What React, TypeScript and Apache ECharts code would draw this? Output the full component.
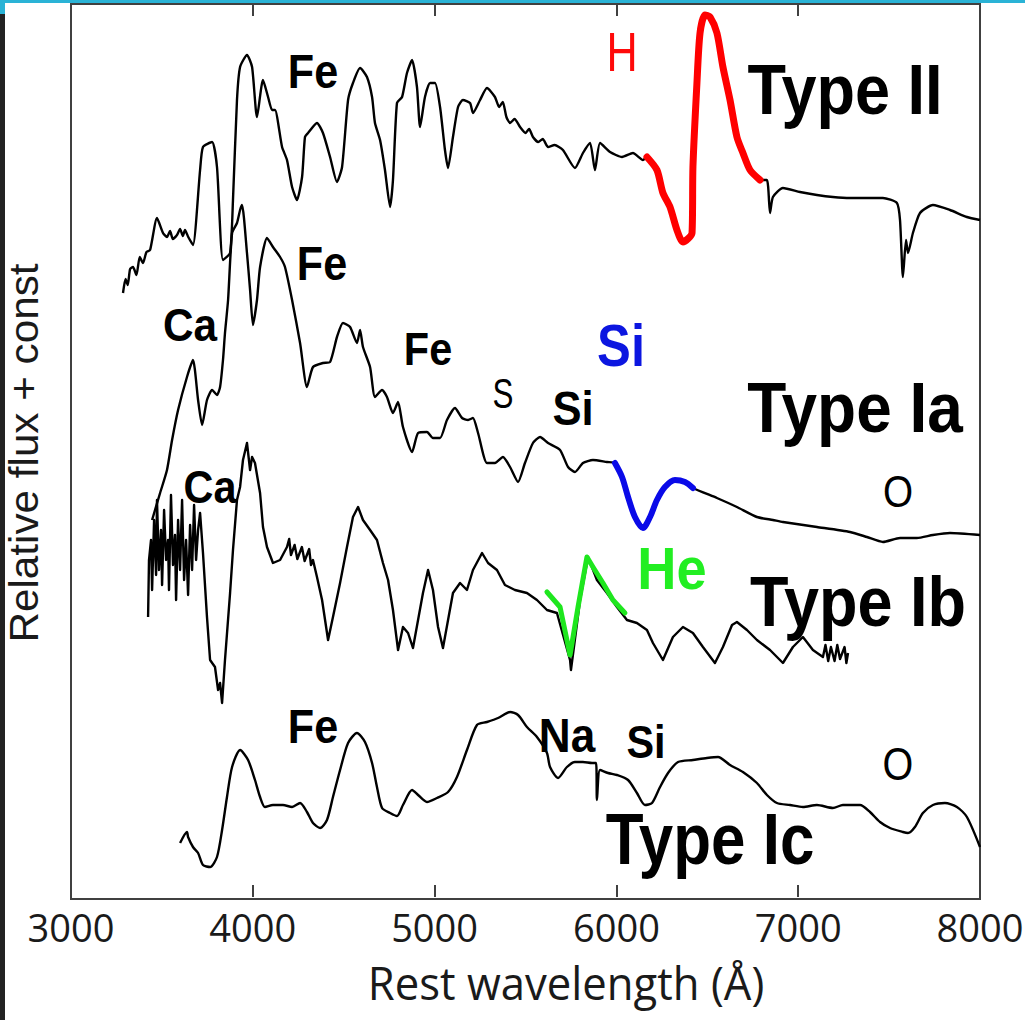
import React, { useEffect, useRef } from "react";
import * as echarts from "echarts";

// ---- axis ----
const X_TICKS = [3000, 4000, 5000, 6000, 7000, 8000];
const FLUX_MIN = -2;
const FLUX_MAX = 893;

// ---- Type II spectrum (wavelength Å, relative flux + const) ----
const typeIIWave = [
  3286, 3300, 3312, 3325, 3341, 3360, 3378, 3396, 3415, 3435,
  3473, 3506, 3528, 3545, 3560, 3583, 3600, 3615, 3627, 3645,
  3671, 3710, 3726, 3776, 3803, 3836, 3875, 3891, 3913, 3930,
  3968, 3996, 4023, 4056, 4084, 4106, 4122, 4161, 4188, 4216,
  4243, 4271, 4287, 4304, 4353, 4386, 4425, 4463, 4491, 4524,
  4551, 4590, 4628, 4656, 4672, 4700, 4727, 4755, 4771, 4793,
  4821, 4848, 4876, 4903, 4920, 4947, 4975, 5002, 5030, 5057,
  5074, 5101, 5129, 5156, 5195, 5211, 5250, 5288, 5332, 5355,
  5375, 5395, 5415, 5440, 5470, 5500, 5520, 5541, 5570, 5595,
  5624, 5660, 5706, 5772, 5816, 5855, 5882, 5910, 5965, 6031,
  6091, 6146, 6168, 6223, 6256, 6295, 6333, 6366, 6416, 6421,
  6443, 6460, 6487, 6515, 6553, 6586, 6625, 6663, 6696, 6735,
  6790, 6828, 6845, 6861, 6916, 7010, 7103, 7191, 7285, 7378,
  7466, 7543, 7560, 7576, 7593, 7604, 7631, 7670, 7741, 7835,
  7928, 8000,
];
const typeIIFlux = [
  604, 618, 612, 628, 630, 622, 640, 634, 645, 647,
  679, 664, 660, 666, 658, 662, 668, 661, 667, 660,
  652, 727, 750, 755, 730, 637, 644, 697, 797, 830,
  842, 830, 780, 817, 800, 787, 787, 750, 737, 710,
  697, 720, 760, 764, 774, 764, 740, 715, 730, 797,
  814, 829, 820, 800, 774, 757, 727, 690, 717, 794,
  800, 824, 837, 810, 770, 800, 814, 814, 790, 747,
  729, 760, 790, 797, 794, 784, 797, 809, 800, 790,
  795, 780, 774, 778, 770, 764, 768, 760, 755, 758,
  750, 752, 747, 729, 744, 754, 727, 754, 745, 740,
  744, 737, 740, 727, 704, 690, 667, 655, 664, 730,
  814, 864, 882, 880, 864, 830, 797, 760, 744, 727,
  717, 717, 684, 700, 709, 705, 702, 700, 699, 699,
  699, 694, 677, 620, 657, 644, 664, 684, 692, 687,
  680, 677,
];

// ---- Type Ia spectrum ----
const typeIaWave = [
  3446, 3490, 3528, 3556, 3589, 3638, 3671, 3699, 3721, 3748,
  3776, 3803, 3820, 3836, 3847, 3864, 3886, 3913, 3930, 3941,
  3968, 3985, 4001, 4023, 4040, 4078, 4111, 4150, 4177, 4216,
  4260, 4298, 4331, 4386, 4425, 4463, 4496, 4535, 4573, 4590,
  4606, 4645, 4672, 4711, 4738, 4771, 4799, 4826, 4876, 4909,
  4958, 4991, 5030, 5068, 5112, 5151, 5184, 5211, 5239, 5288,
  5332, 5376, 5415, 5459, 5497, 5541, 5580, 5624, 5690, 5734,
  5772, 5816, 5871, 5948, 5992, 6031, 6064, 6102, 6146, 6185,
  6223, 6267, 6322, 6377, 6421, 6553, 6663, 6773, 6861, 6916,
  7103, 7285, 7378, 7466, 7560, 7653, 7741, 7835, 8000,
];
const typeIaFlux = [
  377, 404, 427, 457, 487, 520, 537, 497, 472, 497,
  507, 502, 510, 537, 564, 597, 664, 674, 687, 692,
  644, 607, 572, 597, 630, 659, 650, 640, 630, 597,
  554, 510, 530, 534, 535, 560, 574, 570, 554, 567,
  550, 530, 500, 507, 500, 484, 495, 470, 445, 464,
  465, 459, 459, 477, 489, 479, 477, 479, 464, 434,
  434, 440, 430, 415, 434, 454, 460, 454, 447, 430,
  425, 434, 437, 435, 434, 420, 400, 380, 369, 380,
  397, 410, 417, 415, 409, 399, 390, 380, 377, 375,
  370, 365, 360, 355, 359, 359, 362, 364, 362,
];

// ---- Type Ib spectrum ----
const typeIbWave = [
  3424, 3429, 3440, 3446, 3457, 3468, 3473, 3484, 3495, 3501,
  3512, 3523, 3534, 3539, 3550, 3561, 3572, 3578, 3589, 3600,
  3611, 3622, 3633, 3644, 3655, 3666, 3677, 3688, 3699, 3710,
  3726, 3748, 3765, 3792, 3809, 3820, 3831, 3847, 3875, 3891,
  3913, 3930, 3946, 3968, 3985, 3996, 4012, 4040, 4056, 4078,
  4111, 4150, 4188, 4200, 4210, 4230, 4245, 4270, 4285, 4310,
  4320, 4331, 4353, 4381, 4414, 4441, 4480, 4518, 4551, 4579,
  4606, 4645, 4683, 4716, 4744, 4771, 4799, 4826, 4854, 4881,
  4909, 4936, 4964, 4991, 5019, 5046, 5074, 5101, 5140, 5178,
  5211, 5261, 5294, 5343, 5387, 5442, 5508, 5563, 5618, 5673,
  5745, 5750, 5800, 5844, 5893, 5948, 6003, 6058, 6113, 6168,
  6201, 6256, 6311, 6366, 6421, 6476, 6542, 6586, 6636, 6663,
  6718, 6773, 6845, 6916, 6971, 7026, 7081, 7136, 7150, 7165,
  7180, 7200, 7215, 7230, 7255, 7265, 7274,
];
const typeIbFlux = [
  280, 337, 357, 307, 377, 322, 397, 327, 367, 312,
  387, 337, 357, 307, 402, 332, 362, 297, 377, 327,
  397, 317, 357, 302, 372, 327, 392, 337, 367, 384,
  344, 280, 237, 230, 207, 214, 194, 237, 304, 347,
  397, 410, 437, 454, 427, 440, 434, 404, 370, 350,
  334, 337, 350, 358, 342, 352, 338, 350, 336, 348,
  332, 337, 320, 297, 257, 280, 314, 350, 380, 390,
  377, 367, 357, 334, 317, 287, 247, 270, 264, 249,
  277, 304, 327, 307, 270, 249, 277, 304, 314, 307,
  327, 344, 334, 327, 312, 307, 304, 297, 287, 284,
  237, 227, 297, 340, 317, 304, 290, 277, 274, 267,
  254, 237, 260, 270, 264, 250, 234, 250, 272, 275,
  267, 257, 247, 234, 250, 260, 247, 240, 252, 236,
  250, 236, 252, 238, 250, 234, 244,
];

// ---- Type Ic spectrum ----
const typeIcWave = [
  3600, 3638, 3644, 3671, 3699, 3726, 3765, 3803, 3831, 3858,
  3886, 3930, 3974, 4012, 4040, 4067, 4111, 4166, 4216, 4260,
  4298, 4331, 4370, 4408, 4441, 4480, 4524, 4573, 4617, 4656,
  4683, 4711, 4755, 4793, 4826, 4876, 4909, 4958, 5013, 5074,
  5123, 5178, 5233, 5288, 5349, 5415, 5459, 5508, 5563, 5618,
  5635, 5679, 5728, 5772, 5816, 5866, 5888, 5893, 5910, 5954,
  6003, 6064, 6113, 6157, 6196, 6240, 6284, 6339, 6421, 6498,
  6559, 6625, 6696, 6773, 6828, 6883, 6955, 7026, 7103, 7191,
  7246, 7340, 7395, 7450, 7505, 7576, 7604, 7642, 7686, 7741,
  7807, 7873, 7928, 8000,
];
const typeIcFlux = [
  54, 65, 60, 50, 44, 32, 30, 40, 67, 100,
  130, 147, 137, 117, 100, 90, 92, 92, 90, 94,
  85, 74, 69, 77, 100, 127, 154, 164, 155, 134,
  110, 89, 84, 81, 92, 107, 102, 95, 99, 105,
  120, 147, 172, 175, 179, 185, 182, 170, 160, 144,
  130, 119, 130, 135, 135, 134, 134, 97, 127, 124,
  122, 117, 104, 92, 94, 110, 124, 135, 137, 139,
  140, 132, 125, 114, 102, 94, 92, 90, 92, 89,
  92, 92, 85, 75, 69, 65, 64, 70, 84, 92,
  94, 90, 80, 50,
];

// ---- highlighted features ----
const H_ALPHA_RANGE = [6168, 6790]; // on Type II
const SI_II_RANGE = [5992, 6421]; // on Type Ia
const heWave = [5618, 5690, 5745, 5789, 5838, 5871, 5926, 5981, 6047];
const heFlux = [305, 290, 242, 290, 340, 330, 314, 297, 284];

// ---- annotation texts ----
const LABEL_TEXTS = {
  feII: "Fe", hII: "H", typeII: "Type II",
  feIa1: "Fe", caIa: "Ca", feIa2: "Fe", sIa: "S", siIa: "Si", siBlue: "Si", typeIa: "Type Ia", oIa: "O",
  caIb: "Ca", heIb: "He", typeIb: "Type Ib",
  feIc: "Fe", naIc: "Na", siIc: "Si", oIc: "O", typeIc: "Type Ic",
};
const X_TITLE = "Rest wavelength (Å)";
const Y_TITLE = "Relative flux + const";

const pairs = (w: number[], f: number[]) => w.map((x, i) => [x, f[i]]);
const within = (w: number[], f: number[], r: number[]) =>
  pairs(w, f).filter((p) => p[0] >= r[0] && p[0] <= r[1]);

type Ann = { key: keyof typeof LABEL_TEXTS; x: number; y: number; size: number; bold: boolean; color: string; sx: number };
const ANNS: Ann[] = [
  { key: "feII", x: 313, y: 71, size: 49, bold: true, color: "#000", sx: 0.88 },
  { key: "hII", x: 622, y: 52, size: 56, bold: false, color: "#ff0a0a", sx: 0.77 },
  { key: "typeII", x: 845, y: 90, size: 70, bold: true, color: "#000", sx: 0.9 },
  { key: "feIa1", x: 322, y: 263, size: 49, bold: true, color: "#000", sx: 0.88 },
  { key: "caIa", x: 190, y: 325, size: 47, bold: true, color: "#000", sx: 0.9 },
  { key: "feIa2", x: 428, y: 349, size: 46, bold: true, color: "#000", sx: 0.9 },
  { key: "sIa", x: 503, y: 393, size: 43, bold: false, color: "#000", sx: 0.73 },
  { key: "siIa", x: 573, y: 408, size: 49, bold: true, color: "#000", sx: 0.89 },
  { key: "siBlue", x: 621, y: 346, size: 59, bold: true, color: "#0c16e0", sx: 0.86 },
  { key: "typeIa", x: 855, y: 407, size: 71, bold: true, color: "#000", sx: 0.9 },
  { key: "oIa", x: 898, y: 491, size: 45, bold: false, color: "#000", sx: 0.86 },
  { key: "caIb", x: 210, y: 487, size: 46, bold: true, color: "#000", sx: 0.9 },
  { key: "heIb", x: 672, y: 569, size: 59, bold: true, color: "#22ee22", sx: 0.92 },
  { key: "typeIb", x: 858, y: 602, size: 70, bold: true, color: "#000", sx: 0.9 },
  { key: "feIc", x: 313, y: 726, size: 49, bold: true, color: "#000", sx: 0.88 },
  { key: "naIc", x: 567, y: 735, size: 49, bold: true, color: "#000", sx: 0.9 },
  { key: "siIc", x: 646, y: 742, size: 46, bold: true, color: "#000", sx: 0.9 },
  { key: "oIc", x: 898, y: 764, size: 46, bold: false, color: "#000", sx: 0.86 },
  { key: "typeIc", x: 710, y: 839, size: 72, bold: true, color: "#000", sx: 0.86 },
];

const FRAME = "#404040";

function textEl(text: string, x: number, y: number, size: number, font: string, fill: string, sx: number, rotation = 0) {
  return {
    type: "text",
    x,
    y,
    scaleX: sx,
    rotation,
    silent: true,
    z: 100,
    style: {
      text,
      font,
      fill,
      lineHeight: size,
      align: "center",
      verticalAlign: "middle",
      textAlign: "center",
      textVerticalAlign: "middle",
    },
  };
}

export default function App() {
  const ref = useRef<HTMLDivElement>(null);

  useEffect(() => {
    document.body.style.margin = "0";
    const chart = echarts.init(ref.current!, undefined, { renderer: "svg" });

    const spectrum = (name: string, data: number[][], smooth: number) => ({
      name,
      type: "line",
      data,
      smooth,
      showSymbol: false,
      symbol: "none",
      silent: true,
      lineStyle: { color: "#000", width: 2.4, join: "round" },
      z: 2,
    });
    const feature = (name: string, data: number[][], color: string, width: number, smooth: number) => ({
      name,
      type: "line",
      data,
      smooth,
      showSymbol: false,
      symbol: "none",
      silent: true,
      lineStyle: { color, width, cap: "round", join: "round" },
      z: 3,
    });

    const xAxisBase = {
      type: "value",
      min: X_TICKS[0],
      max: X_TICKS[X_TICKS.length - 1],
      interval: X_TICKS[1] - X_TICKS[0],
      axisLine: { show: false },
      splitLine: { show: false },
      axisTick: { show: true, inside: true, length: 12, lineStyle: { color: FRAME, width: 2 } },
    };

    chart.setOption({
      animation: false,
      backgroundColor: "#fff",
      grid: {
        left: 71,
        top: 4,
        right: 45,
        bottom: 121,
        containLabel: false,
        outerBoundsMode: "none",
        show: true,
        borderColor: FRAME,
        borderWidth: 2,
        backgroundColor: "transparent",
      },
      xAxis: [
        {
          ...xAxisBase,
          position: "bottom",
          axisLabel: {
            show: true,
            margin: 9,
            fontSize: 38,
            fontFamily: "Open Sans",
            color: "#1a1a1a",
            showMinLabel: true,
            showMaxLabel: true,
            formatter: (v: number) => String(v),
          },
        },
        { ...xAxisBase, position: "top", axisLabel: { show: false } },
      ],
      yAxis: { type: "value", min: FLUX_MIN, max: FLUX_MAX, show: false },
      series: [
        spectrum("Type II", pairs(typeIIWave, typeIIFlux), 0.2),
        spectrum("Type Ia", pairs(typeIaWave, typeIaFlux), 0.2),
        spectrum("Type Ib", pairs(typeIbWave, typeIbFlux), 0),
        spectrum("Type Ic", pairs(typeIcWave, typeIcFlux), 0.25),
        feature("H", within(typeIIWave, typeIIFlux, H_ALPHA_RANGE), "#ff0000", 7, 0.25),
        feature("Si II", within(typeIaWave, typeIaFlux, SI_II_RANGE), "#0a0ae8", 6, 0.3),
        feature("He", pairs(heWave, heFlux), "#1ee61e", 5, 0),
      ],
      graphic: [
        { type: "rect", shape: { x: 0, y: 0, width: 1025, height: 3 }, style: { fill: "#2ab3d6" }, silent: true },
        { type: "rect", shape: { x: 0, y: 0, width: 5, height: 14 }, style: { fill: "#2ab3d6" }, silent: true },
        { type: "rect", shape: { x: 0, y: 14, width: 5, height: 1006 }, style: { fill: "#222" }, silent: true },
        ...ANNS.map((a) =>
          textEl(
            LABEL_TEXTS[a.key],
            a.x,
            a.y,
            a.size,
            `${a.bold ? "bold " : ""}${a.size}px "Liberation Sans", Arial, sans-serif`,
            a.color,
            a.sx
          )
        ),
        textEl(X_TITLE, 566, 983, 45, '45px "Open Sans", sans-serif', "#1a1a1a", 0.97),
        textEl(Y_TITLE, 23.5, 453, 41, '41px "Liberation Sans", Arial, sans-serif', "#1a1a1a", 1.03, Math.PI / 2),
      ],
    });

    return () => chart.dispose();
  }, []);

  return (
    <div
      ref={ref}
      style={{ position: "fixed", left: 0, top: 0, width: 1025, height: 1020, background: "#fff" }}
    />
  );
}
